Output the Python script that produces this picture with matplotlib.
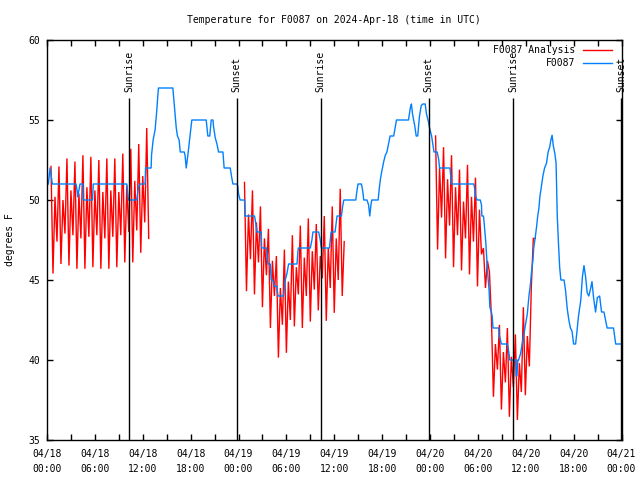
import numpy as np
import matplotlib
matplotlib.use("Agg")
import matplotlib.pyplot as plt
from matplotlib.lines import Line2D

plt.rcParams['font.family'] = ['DejaVu Sans Mono']
plt.rcParams['font.size'] = 7

# ---------------- data (x in hours since 2024-04-18 00:00 UTC) ----------------
title = "Temperature for F0087 on 2024-Apr-18 (time in UTC)"
ylabel = "degrees F"
series_names = ["F0087 Analysis", "F0087"]

xtick_hours = [0, 6, 12, 18, 24, 30, 36, 42, 48, 54, 60, 66, 72]
xtick_labels = ["04/18\n00:00", "04/18\n06:00", "04/18\n12:00", "04/18\n18:00",
                "04/19\n00:00", "04/19\n06:00", "04/19\n12:00", "04/19\n18:00",
                "04/20\n00:00", "04/20\n06:00", "04/20\n12:00", "04/20\n18:00",
                "04/21\n00:00"]
ytick_vals = [35, 40, 45, 50, 55, 60]

sun_hours = [10.33, 23.75, 34.3, 47.85, 58.4, 71.97]
sun_labels = ["Sunrise", "Sunset", "Sunrise", "Sunset", "Sunrise", "Sunset"]

# observed station temperature
blue_t = [0.17, 0.38, 0.67, 3.64, 3.8, 3.85, 4.14, 4.5, 4.52, 5.7, 5.8, 10.0, 10.2,
          11.25, 11.46, 11.67, 12.3, 12.35, 13.05, 13.1, 13.3, 13.55, 13.76, 13.9,
          13.97, 15.77, 15.9, 16.06, 16.2, 16.35, 16.56, 16.7, 17.2, 17.3, 17.45,
          17.65, 17.86, 18.15, 19.95, 20.16, 20.4, 20.58, 20.8, 20.87, 21.08, 21.3,
          21.5, 22.05, 22.2, 22.96, 23.17, 23.3, 23.8, 23.9, 24.0, 24.2, 24.76, 24.8,
          26.0, 26.1, 26.3, 26.85, 26.9, 27.5, 27.6, 27.7, 27.98, 28.1, 28.27, 28.4,
          28.5, 28.8, 28.95, 29.65, 29.86, 30.07, 30.28, 31.33, 31.45, 31.5, 33.0,
          33.2, 33.33, 34.05, 34.25, 34.38, 35.4, 35.6, 36.1, 36.35, 36.9, 37.05,
          37.2, 38.7, 38.85, 38.98, 39.4, 39.56, 39.7, 40.1, 40.3, 40.45, 40.6, 40.7,
          41.5, 41.66, 41.8, 42.0, 42.2, 42.4, 42.6, 42.8, 43.0, 43.45, 43.66, 43.8,
          45.3, 45.55, 45.67, 45.8, 46.1, 46.27, 46.46, 46.67, 46.9, 47.1, 47.4,
          47.55, 47.8, 47.9, 48.2, 48.35, 48.5, 48.9, 49.1, 49.2, 50.5, 50.6, 50.7,
          53.5, 53.6, 53.7, 53.9, 54.3, 54.45, 54.5, 54.7, 54.8, 55.0, 55.2, 55.4,
          55.5, 55.7, 55.8, 55.9, 56.6, 56.7, 56.96, 57.7, 57.9, 58.0, 58.75, 58.8,
          58.9, 59.0, 59.1, 59.35, 59.55, 59.8, 60.0, 60.2, 60.4, 60.6, 60.7, 60.9,
          61.0, 61.2, 61.35, 61.5, 61.65, 61.77, 61.95, 62.15, 62.36, 62.6, 62.8,
          63.0, 63.15, 63.3, 63.45, 63.65, 63.8, 63.95, 64.1, 64.25, 64.4, 64.8,
          65.0, 65.2, 65.4, 65.6, 65.8, 66.0, 66.25, 66.4, 66.6, 66.9, 67.1, 67.3,
          67.5, 67.7, 67.9, 68.1, 68.3, 68.5, 68.75, 68.97, 69.26, 69.5, 69.8, 70.0,
          70.2, 71.0, 71.27, 71.9]
blue_v = [51.0, 52.0, 51.0, 51.0, 50.5, 50.2, 51.0, 51.0, 50.0, 50.0, 51.0, 51.0, 50.0,
          50.0, 50.8, 51.0, 51.0, 52.0, 52.0, 52.8, 53.75, 54.4, 55.6, 56.6,
          57.0, 57.0, 56.25, 55.4, 54.5, 54.0, 53.75, 53.0, 53.0, 52.8, 52.0,
          52.8, 53.75, 55.0, 55.0, 54.0, 54.0, 55.0, 55.0, 54.6, 53.9, 53.5,
          53.0, 53.0, 52.0, 52.0, 51.35, 51.0, 51.0, 50.9, 50.4, 50.0, 50.0, 49.0,
          49.0, 48.75, 48.0, 48.0, 47.0, 47.0, 46.35, 46.0, 46.0, 45.0, 45.0, 44.9,
          44.6, 44.6, 44.0, 44.0, 45.0, 45.4, 46.0, 46.0, 46.8, 47.0, 47.0,
          47.5, 48.0, 48.0, 47.5, 47.0, 47.0, 48.0, 48.0, 49.0, 49.0, 49.6,
          50.0, 50.0, 50.6, 51.0, 51.0, 50.6, 50.0, 50.0, 49.7, 49.0, 49.7, 50.0,
          50.0, 50.8, 51.35, 51.9, 52.4, 52.8, 53.0, 53.5, 54.0, 54.0, 54.6, 55.0,
          55.0, 55.8, 56.0, 55.4, 54.6, 54.0, 54.0, 55.2, 55.9, 56.0, 56.0,
          55.4, 54.9, 54.6, 54.0, 53.5, 53.0, 53.0, 52.5, 52.0, 52.0, 51.5, 51.0,
          51.0, 50.7, 50.25, 50.0, 50.0, 49.7, 49.0, 49.0, 48.5, 47.3, 45.6, 44.4,
          43.3, 43.0, 42.7, 42.0, 42.0, 41.5, 41.0, 41.0, 40.4, 40.0, 40.0, 39.0,
          39.0, 40.0, 40.0, 40.4, 41.0, 41.7, 42.3, 42.9, 44.0, 44.8, 45.4, 46.25,
          47.0, 47.7, 48.3, 49.0, 49.5, 50.2, 50.8, 51.5, 52.0, 52.3, 53.0,
          53.3, 53.75, 54.05, 53.4, 52.9, 52.3, 49.0, 47.3, 45.8, 45.0, 45.0,
          44.3, 43.2, 42.5, 42.0, 41.8, 41.0, 41.0, 41.7, 42.7, 43.75, 45.2, 45.9,
          45.2, 44.2, 44.0, 44.4, 44.9, 43.9, 43.0, 43.9, 44.0, 43.0, 43.0, 42.5,
          42.0, 42.0, 41.0, 41.0]

# analysis series: three runs, sampled every 15 minutes from their start hour
red_step = 0.25
red1_start = 0.5
red1_v = [52.1, 45.4, 50.2, 47.4, 52.1, 46.0, 50.0, 47.9, 52.6, 45.9, 50.6, 47.8,
          52.4, 45.7, 50.4, 47.6, 52.8, 45.7, 50.8, 47.7, 52.7, 45.8, 50.6, 47.8,
          52.5, 45.7, 50.5, 47.6, 52.6, 45.7, 50.6, 47.7, 52.6, 45.8, 50.5, 47.8,
          52.9, 46.1, 50.9, 48.0, 53.2, 46.1, 51.2, 48.1, 53.5, 46.7, 51.5, 48.6,
          54.5, 47.6]
red2_start = 24.75
red2_v = [51.1, 44.3, 49.1, 46.3, 50.6, 44.1, 48.6, 46.1, 49.6, 43.3, 47.6, 45.3,
          48.2, 42.0, 46.2, 44.0, 46.5, 40.15, 44.5, 42.2, 46.9, 40.45, 44.9, 42.5,
          47.8, 42.1, 45.8, 44.1, 48.4, 42.0, 46.4, 44.0, 48.85, 42.4, 46.8, 44.4,
          48.5, 43.1, 46.5, 45.1, 49.0, 42.45, 47.0, 44.5, 49.6, 42.95, 47.6, 45.0,
          50.7, 44.0, 47.4]
red3_start = 48.7
red3_v = [54.0, 46.9, 52.0, 48.9, 53.3, 46.35, 51.3, 48.4, 52.8, 45.8, 50.8, 47.8,
          51.9, 45.6, 49.9, 47.6, 52.2, 45.35, 50.2, 47.4, 51.4, 44.6, 49.4, 46.6,
          47.0, 44.5, 46.2, 45.5, 42.6, 37.7, 41.0, 39.4, 42.2, 36.9, 40.5, 38.6,
          42.0, 36.45, 40.2, 38.3, 41.6, 36.25, 39.8, 38.0, 43.3, 37.8, 41.5, 39.6,
          44.6, 47.6, 47.6]

# ---------------- plotting ----------------
RED = '#ff0000'
BLUE = '#0080ff'

fig = plt.figure(figsize=(6.4, 4.8), dpi=100)
ax = fig.add_axes([47 / 640, 40 / 480, 574.5 / 640, 400 / 480])

for start, vals in [(red1_start, red1_v), (red2_start, red2_v), (red3_start, red3_v)]:
    t = start + red_step * np.arange(len(vals))
    ax.plot(t, vals, color=RED, lw=1.0, solid_joinstyle='miter')
ax.plot(blue_t, blue_v, color=BLUE, lw=1.0)

for h, lab in zip(sun_hours, sun_labels):
    ax.vlines(h, 35, 56.4, color='black', lw=1.0)
    ax.text(h, 56.75, lab, rotation=90, ha='center', va='bottom', clip_on=False)

ax.set_xlim(0, 72)
ax.set_ylim(35, 60)
ax.set_xticks(xtick_hours)
ax.set_xticklabels(xtick_labels)
ax.set_xticks(np.arange(3, 72, 6), minor=True)
ax.set_yticks(ytick_vals)
ax.tick_params(which='both', direction='in', top=True, right=True, length=4, width=1, pad=5)
ax.tick_params(axis='x', pad=6.5)
for lab in ax.get_xticklabels():
    lab.set_linespacing(1.68)
for s in ax.spines.values():
    s.set_linewidth(1.0)

fig.text(334 / 640, 1 - 20 / 480, title, ha='center', va='center')
fig.text(10 / 640, 0.5, ylabel, rotation=90, ha='center', va='center')

# legend (right-justified labels, sample line to the right)
for i, (name, col) in enumerate(zip(series_names, [RED, BLUE])):
    yy = 1 - (10 + 13 * i) / 400
    ax.text(1 - 46 / 574.5, yy, name, transform=ax.transAxes, ha='right', va='center')
    ax.add_line(Line2D([1 - 38.5 / 574.5, 1 - 9.5 / 574.5], [yy, yy], transform=ax.transAxes,
                       color=col, lw=1.0))

fig.savefig('out.png', dpi=100)
